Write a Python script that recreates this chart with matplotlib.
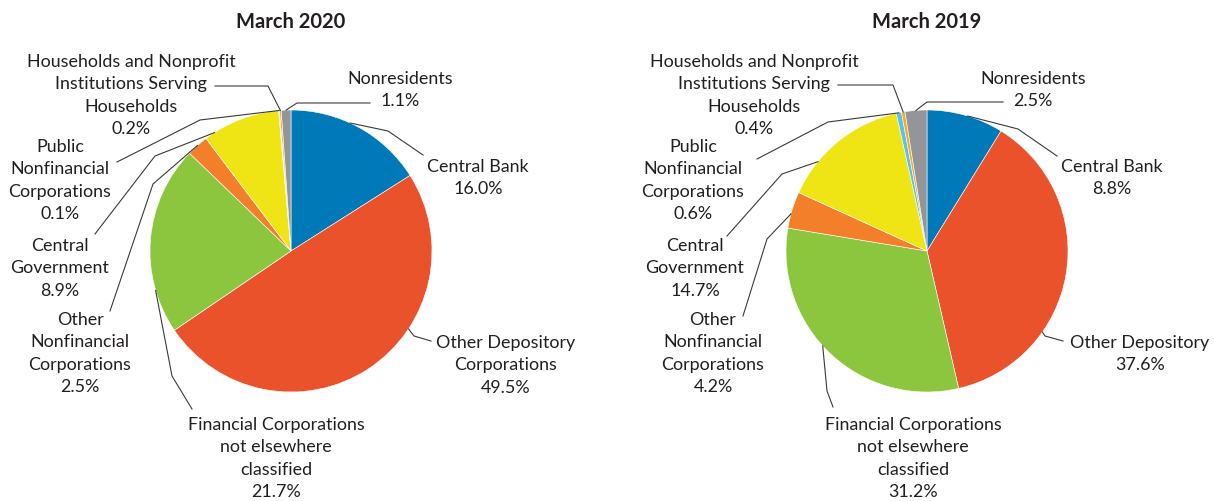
import numpy as np
import matplotlib
matplotlib.use("Agg")
import matplotlib.pyplot as plt

plt.rcParams['font.family'] = ['Lato', 'DejaVu Sans']

# ---------------- data ----------------
categories = ["Central Bank", "Other Depository Corporations",
              "Financial Corporations not elsewhere classified",
              "Other Nonfinancial Corporations", "Central Government",
              "Public Nonfinancial Corporations",
              "Households and Nonprofit Institutions Serving Households",
              "Nonresidents"]
values_2020 = [16.0, 49.5, 21.7, 2.5, 8.9, 0.1, 0.2, 1.1]
values_2019 = [8.8, 37.6, 31.2, 4.2, 14.7, 0.6, 0.4, 2.5]
titles = ["March 2020", "March 2019"]

labels_2020 = [["Central Bank", "16.0%"],
               ["Other Depository", "Corporations", "49.5%"],
               ["Financial Corporations", "not elsewhere", "classified", "21.7%"],
               ["Other", "Nonfinancial", "Corporations", "2.5%"],
               ["Central", "Government", "8.9%"],
               ["Public", "Nonfinancial", "Corporations", "0.1%"],
               ["Households and Nonprofit", "Institutions Serving", "Households", "0.2%"],
               ["Nonresidents", "1.1%"]]
labels_2019 = [["Central Bank", "8.8%"],
               ["Other Depository", "37.6%"],
               ["Financial Corporations", "not elsewhere", "classified", "31.2%"],
               ["Other", "Nonfinancial", "Corporations", "4.2%"],
               ["Central", "Government", "14.7%"],
               ["Public", "Nonfinancial", "Corporations", "0.6%"],
               ["Households and Nonprofit", "Institutions Serving", "Households", "0.4%"],
               ["Nonresidents", "2.5%"]]

colors = ["#0079b8", "#ea522b", "#8cc63f", "#f47f2a", "#efe514",
          "#55c3ec", "#f8a823", "#939598"]

# ---------------- layout (pixel coords, y down) ----------------
W, H = 1214, 502
TXT = "#231f20"
LINE = "#3a3a3a"
centers = [(291, 252), (927, 252)]
R = 141
title_y = 22
step = 22.4

# label text: (center x, y of first line)
text_pos = [
    [(478, 167), (506, 343), (276, 425), (80, 320), (60, 246), (60, 147), (131, 62), (400, 79)],
    [(1112, 167), (1140, 343), (913, 425), (713, 320), (695, 246), (693, 147), (754, 62), (1033, 79)],
]
# leader: (fraction along wedge, elbow, end)
leaders = [
    [(0.43, (388, 132), (423, 156)),
     (0.37, (414, 337), (431, 342)),
     (0.23, (172, 377), (192, 410)),
     (0.50, (153, 185), (110, 312)),
     (0.13, (155, 157), (95, 235)),
     (0.50, (200, 121), (117, 163)),
     (0.50, (268, 87), (215, 87)),
     (0.50, (297, 104), (370, 104))],
    [(0.53, (1018, 130), (1057, 157)),
     (0.69, (1045, 337), (1063, 342)),
     (0.54, (827, 392), (833, 408)),
     (0.39, (767, 240), (743, 317)),
     (0.28, (782, 175), (727, 237)),
     (0.50, (828, 123), (757, 160)),
     (0.50, (893, 86), (838, 86)),
     (0.50, (927, 103), (1003, 103))],
]


def P(x, y):
    return (x, H - y)


fig = plt.figure(figsize=(W / 100, H / 100), dpi=100)
ax = fig.add_axes([0, 0, 1, 1])

all_values = [values_2020, values_2019]
all_labels = [labels_2020, labels_2019]

for k in range(2):
    cx, cy = P(*centers[k])
    wedges, _ = ax.pie(all_values[k], colors=colors, startangle=90,
                       counterclock=False, radius=R, center=(cx, cy),
                       wedgeprops=dict(edgecolor="white", linewidth=0.4))
    ax.text(cx, H - title_y, titles[k], ha="center", va="center",
            fontsize=14.5, fontweight="bold", color=TXT)
    for i, w in enumerate(wedges):
        frac, elbow, end = leaders[k][i]
        t1, t2 = w.theta1, w.theta2
        ang = np.deg2rad(t2 - frac * (t2 - t1))
        ax_ = cx + R * np.cos(ang)
        ay_ = cy + R * np.sin(ang)
        ex, ey = P(*elbow)
        nx, ny = P(*end)
        ax.plot([ax_, ex, nx], [ay_, ey, ny], color=LINE, lw=0.8,
                solid_joinstyle="miter", zorder=5)
        tx, ty = text_pos[k][i]
        for j, line in enumerate(all_labels[k][i]):
            ax.text(tx, H - (ty + j * step), line, ha="center", va="center",
                    fontsize=12.9, color=TXT)

ax.set_xlim(0, W)
ax.set_ylim(0, H)
ax.set_aspect("equal")
ax.axis("off")
fig.savefig("out.png", dpi=100, facecolor="white")
